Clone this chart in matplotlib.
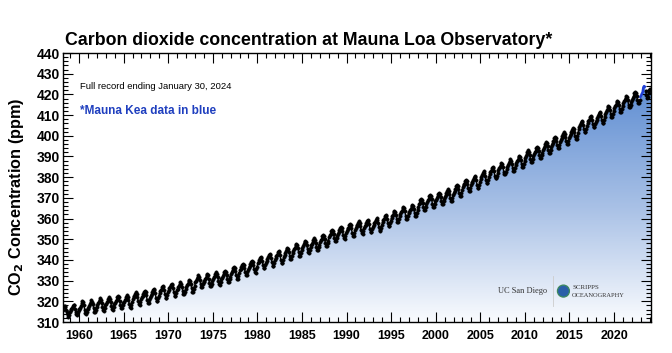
import numpy as np
import matplotlib
matplotlib.use('Agg')
import matplotlib.pyplot as plt
from matplotlib.colors import LinearSegmentedColormap
from matplotlib.ticker import MultipleLocator
from matplotlib.patches import Ellipse, Polygon

plt.rcParams['font.family'] = ['Liberation Sans', 'DejaVu Sans']

# Monthly CO2 (ppm), Jan..Dec for each year
co2_1958 = [315.7, 317.5, 317.5, 317.3, 315.9, 314.9, 313.2, 312.4, 313.3, 314.7]  # Mar-Dec 1958
years = list(range(1959, 2024))
co2_monthly = [
    [315.6, 316.5, 316.7, 317.7, 318.3, 318.2, 316.5, 314.8, 313.8, 313.3, 314.8, 315.6],  # 1959
    [316.4, 317.0, 317.6, 319.0, 320.0, 319.6, 318.2, 315.9, 314.2, 313.8, 315.0, 316.2],  # 1960
    [316.9, 317.7, 318.5, 319.6, 320.6, 319.9, 318.7, 316.7, 314.8, 315.0, 316.0, 317.1],  # 1961
    [318.2, 319.0, 319.7, 320.8, 321.4, 320.8, 319.2, 317.1, 315.6, 315.5, 316.9, 318.1],  # 1962
    [318.7, 319.5, 320.2, 321.3, 321.9, 321.3, 319.7, 317.6, 316.1, 316.0, 317.4, 318.6],  # 1963
    [319.3, 320.1, 320.8, 321.9, 322.5, 321.9, 320.3, 318.2, 316.7, 316.6, 318.0, 319.2],  # 1964
    [319.7, 320.5, 321.2, 322.3, 322.9, 322.3, 320.7, 318.6, 317.1, 317.0, 318.4, 319.6],  # 1965
    [321.1, 321.9, 322.6, 323.7, 324.3, 323.7, 322.1, 320.0, 318.5, 318.4, 319.8, 321.0],  # 1966
    [321.9, 322.7, 323.4, 324.5, 325.1, 324.5, 322.9, 320.8, 319.3, 319.2, 320.6, 321.8],  # 1967
    [322.8, 323.6, 324.3, 325.4, 326.0, 325.4, 323.8, 321.7, 320.2, 320.1, 321.5, 322.7],  # 1968
    [324.1, 324.9, 325.7, 326.8, 327.4, 326.8, 325.4, 323.3, 321.8, 321.7, 323.2, 324.4],  # 1969
    [325.4, 326.2, 326.9, 328.0, 328.6, 328.0, 326.4, 324.3, 322.8, 322.7, 324.1, 325.3],  # 1970
    [326.0, 326.8, 327.5, 328.6, 329.2, 328.6, 327.0, 324.9, 323.4, 323.3, 324.7, 325.9],  # 1971
    [327.0, 327.8, 328.6, 329.7, 330.3, 329.7, 328.3, 326.2, 324.7, 324.6, 326.1, 327.3],  # 1972
    [329.2, 330.0, 330.8, 331.9, 332.5, 331.9, 330.5, 328.4, 326.9, 326.8, 328.3, 329.5],  # 1973
    [329.9, 330.7, 331.4, 332.5, 333.1, 332.5, 330.9, 328.8, 327.3, 327.2, 328.6, 329.8],  # 1974
    [330.8, 331.6, 332.3, 333.4, 334.0, 333.4, 331.8, 329.7, 328.2, 328.1, 329.5, 330.7],  # 1975
    [331.5, 332.3, 333.1, 334.2, 334.8, 334.2, 332.8, 330.7, 329.2, 329.1, 330.6, 331.8],  # 1976
    [333.3, 334.1, 334.9, 336.0, 336.6, 336.0, 334.6, 332.5, 331.0, 330.9, 332.4, 333.6],  # 1977
    [334.9, 335.7, 336.5, 337.6, 338.2, 337.6, 336.2, 334.1, 332.6, 332.5, 334.0, 335.2],  # 1978
    [336.3, 337.1, 337.9, 339.0, 339.6, 339.0, 337.6, 335.5, 334.0, 333.9, 335.4, 336.6],  # 1979
    [338.3, 339.1, 339.9, 341.0, 341.6, 341.0, 339.6, 337.5, 336.0, 335.9, 337.4, 338.6],  # 1980
    [339.6, 340.4, 341.2, 342.3, 342.9, 342.3, 340.9, 338.8, 337.3, 337.2, 338.7, 339.9],  # 1981
    [341.0, 341.8, 342.6, 343.7, 344.3, 343.7, 342.3, 340.2, 338.7, 338.6, 340.1, 341.3],  # 1982
    [342.5, 343.4, 344.1, 345.3, 345.9, 345.4, 343.9, 341.9, 340.5, 340.5, 341.9, 343.2],  # 1983
    [344.4, 345.2, 346.0, 347.1, 347.7, 347.1, 345.7, 343.6, 342.1, 342.0, 343.5, 344.7],  # 1984
    [345.9, 346.7, 347.5, 348.6, 349.2, 348.6, 347.2, 345.1, 343.6, 343.5, 345.0, 346.2],  # 1985
    [347.1, 347.9, 348.7, 349.8, 350.4, 349.8, 348.4, 346.3, 344.8, 344.7, 346.2, 347.4],  # 1986
    [348.6, 349.5, 350.2, 351.4, 352.1, 351.5, 350.1, 348.0, 346.6, 346.6, 348.0, 349.3],  # 1987
    [351.0, 351.9, 352.6, 353.8, 354.5, 353.9, 352.5, 350.4, 349.0, 349.0, 350.4, 351.7],  # 1988
    [352.7, 353.5, 354.3, 355.4, 356.0, 355.4, 354.0, 351.9, 350.4, 350.3, 351.8, 353.0],  # 1989
    [354.0, 354.8, 355.6, 356.7, 357.3, 356.7, 355.3, 353.2, 351.7, 351.6, 353.1, 354.3],  # 1990
    [355.4, 356.2, 356.9, 358.0, 358.6, 358.0, 356.4, 354.3, 352.8, 352.7, 354.1, 355.3],  # 1991
    [356.2, 357.0, 357.7, 358.8, 359.4, 358.8, 357.2, 355.1, 353.6, 353.5, 354.9, 356.1],  # 1992
    [356.9, 357.7, 358.4, 359.5, 360.1, 359.5, 357.9, 355.8, 354.3, 354.2, 355.6, 356.8],  # 1993
    [358.3, 359.2, 359.9, 361.1, 361.8, 361.2, 359.8, 357.7, 356.3, 356.3, 357.7, 359.0],  # 1994
    [360.3, 361.2, 361.9, 363.1, 363.8, 363.2, 361.8, 359.7, 358.3, 358.3, 359.7, 361.0],  # 1995
    [362.2, 363.0, 363.8, 364.9, 365.5, 364.9, 363.5, 361.4, 359.9, 359.8, 361.3, 362.5],  # 1996
    [363.2, 364.1, 364.8, 366.0, 366.7, 366.1, 364.7, 362.6, 361.2, 361.2, 362.6, 363.9],  # 1997
    [365.8, 366.8, 367.6, 368.8, 369.5, 369.0, 367.6, 365.6, 364.2, 364.2, 365.7, 367.1],  # 1998
    [368.0, 368.8, 369.6, 370.7, 371.3, 370.7, 369.3, 367.2, 365.7, 365.6, 367.1, 368.3],  # 1999
    [369.2, 370.0, 370.8, 371.9, 372.5, 371.9, 370.5, 368.4, 366.9, 366.8, 368.3, 369.5],  # 2000
    [370.6, 371.5, 372.2, 373.4, 374.1, 373.5, 372.1, 370.0, 368.6, 368.6, 370.0, 371.3],  # 2001
    [372.5, 373.5, 374.3, 375.5, 376.2, 375.7, 374.3, 372.3, 370.9, 370.9, 372.4, 373.8],  # 2002
    [375.3, 376.2, 376.9, 378.1, 378.8, 378.2, 376.8, 374.7, 373.3, 373.3, 374.7, 376.0],  # 2003
    [377.0, 377.9, 378.6, 379.8, 380.5, 379.9, 378.5, 376.4, 375.0, 375.0, 376.4, 377.7],  # 2004
    [379.3, 380.2, 380.9, 382.1, 382.8, 382.2, 380.8, 378.7, 377.3, 377.3, 378.7, 380.0],  # 2005
    [381.4, 382.3, 383.0, 384.2, 384.9, 384.3, 382.9, 380.8, 379.4, 379.4, 380.8, 382.1],  # 2006
    [383.3, 384.2, 384.9, 386.1, 386.8, 386.2, 384.8, 382.7, 381.3, 381.3, 382.7, 384.0],  # 2007
    [385.1, 386.0, 386.7, 387.9, 388.6, 388.0, 386.6, 384.5, 383.1, 383.1, 384.5, 385.8],  # 2008
    [386.9, 387.8, 388.5, 389.7, 390.4, 389.8, 388.4, 386.3, 384.9, 384.9, 386.3, 387.6],  # 2009
    [389.4, 390.3, 391.0, 392.2, 392.9, 392.3, 390.9, 388.8, 387.4, 387.4, 388.8, 390.1],  # 2010
    [391.2, 392.1, 392.8, 394.0, 394.7, 394.1, 392.7, 390.6, 389.2, 389.2, 390.6, 391.9],  # 2011
    [393.1, 394.1, 394.9, 396.1, 396.8, 396.3, 394.9, 392.9, 391.5, 391.5, 393.0, 394.4],  # 2012
    [395.7, 396.7, 397.5, 398.7, 399.4, 398.9, 397.5, 395.5, 394.1, 394.1, 395.6, 397.0],  # 2013
    [398.1, 399.0, 399.7, 400.9, 401.6, 401.0, 399.6, 397.5, 396.1, 396.1, 397.5, 398.8],  # 2014
    [400.0, 401.0, 401.8, 403.0, 403.7, 403.2, 401.8, 399.8, 398.4, 398.4, 399.9, 401.3],  # 2015
    [403.4, 404.4, 405.2, 406.4, 407.1, 406.6, 405.2, 403.2, 401.8, 401.8, 403.3, 404.7],  # 2016
    [406.1, 407.0, 407.7, 408.9, 409.6, 409.0, 407.6, 405.5, 404.1, 404.1, 405.5, 406.8],  # 2017
    [407.7, 408.7, 409.5, 410.7, 411.4, 410.9, 409.5, 407.5, 406.1, 406.1, 407.6, 409.0],  # 2018
    [410.7, 411.7, 412.5, 413.7, 414.4, 413.9, 412.5, 410.5, 409.1, 409.1, 410.6, 412.0],  # 2019
    [413.2, 414.2, 415.0, 416.2, 416.9, 416.4, 415.0, 413.0, 411.6, 411.6, 413.1, 414.5],  # 2020
    [415.7, 416.6, 417.3, 418.5, 419.2, 418.6, 417.2, 415.1, 413.7, 413.7, 415.1, 416.4],  # 2021
    [417.5, 418.5, 419.3, 420.5, 421.2, 420.7, 419.3, 417.3, 415.9, 415.9, 417.4, 418.8],  # 2022
    [419.5, 420.4, 421.0, 423.4, 424.0, 423.7, 421.8, 419.7, 418.5, 418.8, 420.5, 421.9],  # 2023
]
co2_2024 = [422.8]  # Jan 2024

# months measured on Mauna Kea (after the 2022 eruption)
kea_start = (2022, 12)
kea_end = (2023, 6)

# build time axis (decimal years, mid-month)
t = [1958 + (m + 2.5) / 12 for m in range(len(co2_1958))]
ppm = list(co2_1958)
for yr, row in zip(years, co2_monthly):
    for m, v in enumerate(row):
        t.append(yr + (m + 0.5) / 12)
        ppm.append(v)
t.append(2024 + 0.5 / 12)
ppm.append(co2_2024[0])
t = np.array(t)
ppm = np.array(ppm)

kea = (t > kea_start[0] + (kea_start[1] - 1) / 12) & (t < kea_end[0] + kea_end[1] / 12)

fig = plt.figure(figsize=(6.72, 3.53), dpi=100)
ax = fig.add_axes([0.0938, 0.0878, 0.875, 0.762])

XMIN, XMAX = 1958.2, 2024.15
YMIN, YMAX = 310, 440

# gradient fill under the curve (white at the bottom, blue near the top)
cmap = LinearSegmentedColormap.from_list('co2', ['#f9fbfe', '#a9c1e6', '#6592d4'])
grad = np.linspace(0, 1, 256).reshape(-1, 1)
grad = np.clip(grad * 130 / 110, 0, 1)
im = ax.imshow(grad, extent=[XMIN, XMAX, YMIN, YMAX], origin='lower', aspect='auto',
               cmap=cmap, vmin=0, vmax=1, zorder=1)
verts = np.vstack([np.column_stack([t, ppm]), [[XMAX, ppm[-1]], [XMAX, YMIN], [XMIN, YMIN], [XMIN, ppm[0]]]])
clip = Polygon(verts, closed=True, transform=ax.transData, facecolor='none', edgecolor='none')
ax.add_patch(clip)
im.set_clip_path(clip)

# black Mauna Loa record, blue Mauna Kea segment
ml = ppm.copy()
ml[kea] = np.nan
ax.plot(t, ml, color='black', lw=1.0, marker='o', ms=2.4, mec='black', mew=0.4, zorder=3)
idx = np.where(kea)[0]
ax.plot(t[idx[0]:idx[-1] + 1], ppm[idx[0]:idx[-1] + 1], color='#1f3fd6', lw=1.8, zorder=4)

ax.set_xlim(XMIN, XMAX)
ax.set_ylim(YMIN, YMAX)
ax.xaxis.set_major_locator(MultipleLocator(5))
ax.xaxis.set_minor_locator(MultipleLocator(1))
ax.yaxis.set_major_locator(MultipleLocator(10))
ax.yaxis.set_minor_locator(MultipleLocator(2))
ax.tick_params(which='both', direction='in', top=True, right=True, width=0.8)
ax.tick_params(which='major', length=7)
ax.tick_params(which='minor', length=3.5)
ax.tick_params(axis='x', labelsize=9, pad=6)
ax.tick_params(axis='y', labelsize=10, pad=2)
for lab in ax.get_xticklabels() + ax.get_yticklabels():
    lab.set_fontweight('bold')
for s in ax.spines.values():
    s.set_linewidth(1.0)

ax.set_ylabel('CO$_\\mathbf{2}$ Concentration (ppm)', fontsize=11.7, fontweight='bold')
ax.yaxis.set_label_coords(-0.063, 0.465)
fig.text(0.096, 0.862, 'Carbon dioxide concentration at Mauna Loa Observatory*',
         fontsize=12.8, fontweight='bold', ha='left', va='bottom')

ax.text(0.029, 0.874, 'Full record ending January 30, 2024', transform=ax.transAxes,
        fontsize=6.8, ha='left', va='center')
ax.text(0.029, 0.784, '*Mauna Kea data in blue', transform=ax.transAxes,
        fontsize=8.5, fontweight='bold', color='#1f3fbf', ha='left', va='center')

# logos
ax.text(0.74, 0.115, 'UC San Diego', transform=ax.transAxes, fontsize=6,
        family='Liberation Serif', color='#333333', ha='left', va='center', zorder=5)
ax.plot([0.833, 0.833], [0.06, 0.17], transform=ax.transAxes, color='#cccccc', lw=0.6, zorder=5)
ax.add_patch(Ellipse((0.851, 0.115), 0.0204, 0.0446, transform=ax.transAxes, facecolor='#2a5fa8',
                     edgecolor='#3d8a5e', lw=0.9, zorder=5))
ax.text(0.866, 0.13, 'SCRIPPS', transform=ax.transAxes, fontsize=5,
        family='Liberation Serif', color='#333333', ha='left', va='center', zorder=5)
ax.text(0.866, 0.098, 'OCEANOGRAPHY', transform=ax.transAxes, fontsize=4.6,
        family='Liberation Serif', color='#333333', ha='left', va='center', zorder=5)

fig.savefig('out.png', dpi=100)
